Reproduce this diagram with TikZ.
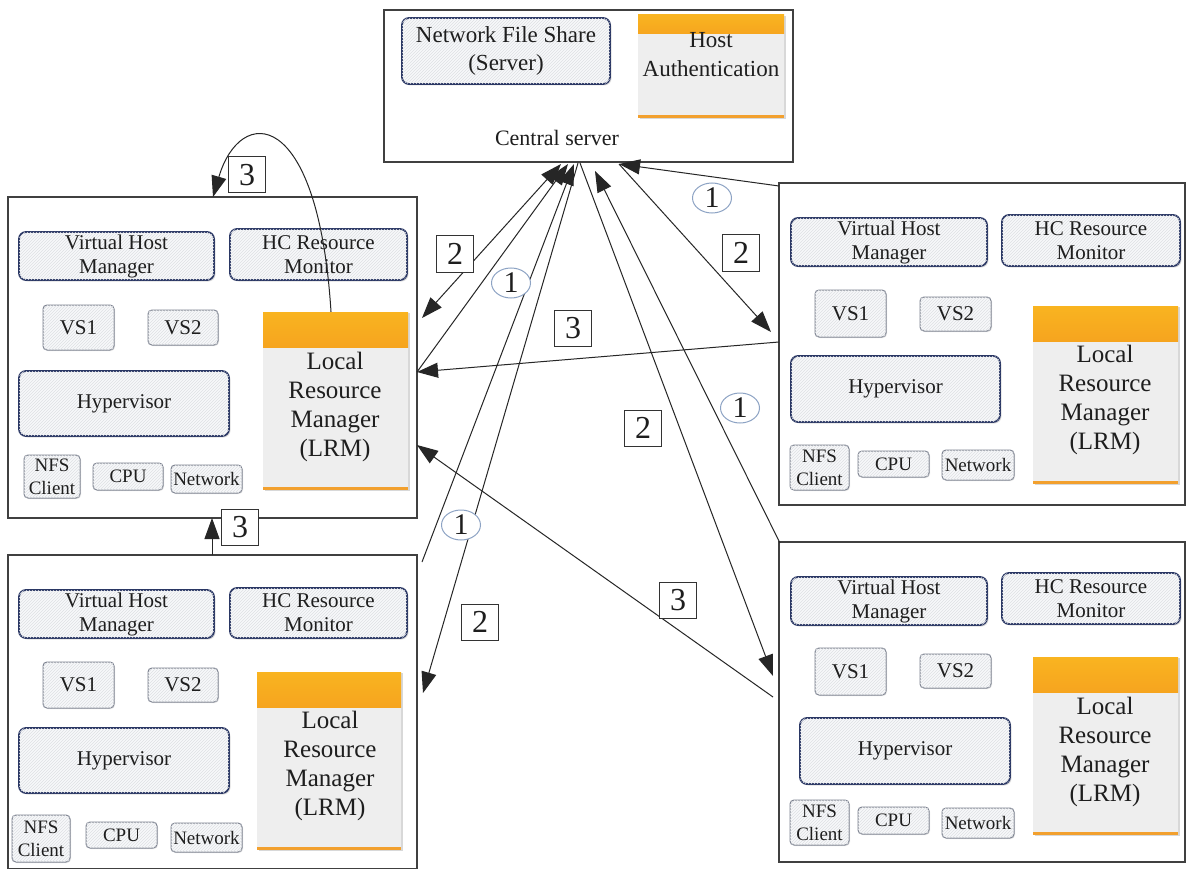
\documentclass[tikz,border=0pt]{standalone}
\usepackage{fontspec}
\setmainfont{Liberation Serif}
\usetikzlibrary{arrows.meta,patterns,shadows,calc,shapes.geometric}
\definecolor{navy}{HTML}{2A3764}
\definecolor{bordgray}{HTML}{7C8290}
\definecolor{orA}{HTML}{F9B420}
\definecolor{orB}{HTML}{EA6418}
\definecolor{orLine}{HTML}{F2A02E}
\definecolor{lrmbody}{HTML}{EEEEEE}
\definecolor{ellc}{HTML}{8DA3C4}
\definecolor{hatch}{HTML}{DEE0E4}
\definecolor{boxfill}{HTML}{F8F9FA}
\definecolor{txt}{HTML}{1E1E1E}
\newcommand{\fsz}[2]{\fontsize{#1}{#2}\selectfont}
% name, x1, y1, x2, y2, style, text
\newcommand{\bx}[7]{\node[#6, minimum width={(#4)-(#2)}, minimum height={(#5)-(#3)}] (#1) at ({((#2)+(#4))/2},{((#3)+(#5))/2}) {#7};}
\tikzset{
  x=1pt, y=-1pt,
  every node/.style={text=txt},
  host/.style={draw=black!75, line width=1.2pt, fill=white, inner sep=0},
  bigbox/.style={rounded corners=7pt, draw=navy, line width=1.8pt, fill=boxfill,
    drop shadow={shadow xshift=1.5pt, shadow yshift=-1.5pt, opacity=0.25},
    postaction={pattern=north east lines, pattern color=hatch},
    inner sep=0, align=center, font=\fsz{21}{24}},
  smallbox/.style={rounded corners=4pt, draw=bordgray, line width=1pt, fill=boxfill,
    drop shadow={shadow xshift=1pt, shadow yshift=-1pt, opacity=0.2},
    postaction={pattern=north east lines, pattern color=hatch},
    inner sep=0, align=center, font=\fsz{21}{24}},
  tinybox/.style={smallbox, font=\fsz{19}{22}},
  lrm/.style={draw=none, fill=lrmbody, inner sep=0,
    drop shadow={shadow xshift=2pt, shadow yshift=-1pt, opacity=0.3},
    path picture={
      \shade[top color=orA, bottom color=orB] (path picture bounding box.north west) rectangle ([yshift=-#1]path picture bounding box.north east);
      \fill[orLine] (path picture bounding box.south west) rectangle ([yshift=3pt]path picture bounding box.south east);
    }},
  lrm/.default=35pt,
  lrmtext/.style={align=center, font=\fsz{25}{29}, inner sep=0},
  arr/.style={-{Triangle[length=21pt,width=15pt]}, line width=1pt, draw=black!85},
  darr/.style={{Triangle[length=21pt,width=15pt]}-{Triangle[length=21pt,width=15pt]}, line width=1pt, draw=black!85},
  sq/.style={draw=black!80, line width=1pt, fill=white, inner sep=0, minimum width=37pt, minimum height=36pt, font=\fsz{32}{32}},
  circ/.style={ellipse, draw=ellc, line width=1pt, fill=white, inner sep=0, minimum width=39pt, minimum height=30pt, font=\fsz{30}{30}},
}
\begin{document}
\begin{tikzpicture}
\useasboundingbox (0,0) rectangle (1186,869);
\fill[white] (0,0) rectangle (1186,869);

% ---------- Central server ----------
\bx{central}{384}{10}{793}{162}{host}{}
\bx{nfsS}{402}{18}{610}{84}{bigbox, font=\fsz{23}{28}}{Network File Share\\(Server)}
\bx{hauth}{638}{15}{784}{118}{lrm=19pt}{}
\node[align=center, font=\fsz{23}{29}, inner sep=0] (hauthT) at (711,55) {Host\\Authentication};
\node[font=\fsz{22}{24}, inner sep=0] (centralT) at (557,138) {Central server};

% ---------- Host A (left top) ----------
\bx{hostA}{8}{197}{417}{518}{host}{}
\bx{vhmA}{19}{232}{214}{280}{bigbox}{Virtual Host\\Manager}
\bx{hcA}{230}{229}{407}{280}{bigbox}{HC Resource\\Monitor}
\bx{vs1A}{43}{305}{114}{350}{smallbox}{VS1}
\bx{vs2A}{148}{310}{218}{345}{smallbox}{VS2}
\bx{hypA}{19}{371}{229}{436}{bigbox}{Hypervisor}
\bx{nfsA}{24}{455}{80}{498}{tinybox, font=\fsz{19}{23}}{NFS\\Client}
\bx{cpuA}{93}{463}{163}{490}{tinybox}{CPU}
\bx{netA}{171}{465}{242}{493}{tinybox}{Network}
\bx{lrmA}{263}{312}{408}{490}{lrm}{}
\node[lrmtext] (lrmAT) at (335,407) {Local\\Resource\\Manager\\(LRM)};

% ---------- Host C (left bottom) ----------
\bx{hostC}{8}{555}{417}{868.5}{host}{}
\bx{vhmC}{19}{590}{214}{638}{bigbox}{Virtual Host\\Manager}
\bx{hcC}{230}{588}{407}{638}{bigbox}{HC Resource\\Monitor}
\bx{vs1C}{43}{662}{114}{708}{smallbox}{VS1}
\bx{vs2C}{148}{668}{218}{702}{smallbox}{VS2}
\bx{hypC}{19}{728}{229}{793}{bigbox}{Hypervisor}
\bx{nfsC}{12}{815}{70}{862}{tinybox, font=\fsz{19}{23}}{NFS\\Client}
\bx{cpuC}{86}{822}{157}{848}{tinybox}{CPU}
\bx{netC}{171}{823}{242}{852}{tinybox}{Network}
\bx{lrmC}{257}{672}{401}{850}{lrm}{}
\node[lrmtext] (lrmCT) at (330,766) {Local\\Resource\\Manager\\(LRM)};

% ---------- Host B (right top) ----------
\bx{hostB}{779}{183}{1185}{505}{host}{}
\bx{vhmB}{791}{218}{987}{266}{bigbox}{Virtual Host\\Manager}
\bx{hcB}{1002}{215}{1180}{266}{bigbox}{HC Resource\\Monitor}
\bx{vs1B}{815}{290}{886}{337}{smallbox}{VS1}
\bx{vs2B}{920}{297}{991}{331}{smallbox}{VS2}
\bx{hypB}{791}{356}{1000}{422}{bigbox}{Hypervisor}
\bx{nfsB}{790}{445}{849}{490}{tinybox, font=\fsz{19}{23}}{NFS\\Client}
\bx{cpuB}{858}{451}{929}{477}{tinybox}{CPU}
\bx{netB}{942}{450}{1014}{480}{tinybox}{Network}
\bx{lrmB}{1033}{306}{1178}{484}{lrm}{}
\node[lrmtext] (lrmBT) at (1105,400) {Local\\Resource\\Manager\\(LRM)};

% ---------- Host D (right bottom) ----------
\bx{hostD}{779}{542}{1185}{862}{host}{}
\bx{vhmD}{791}{577}{987}{625}{bigbox}{Virtual Host\\Manager}
\bx{hcD}{1002}{573}{1180}{624}{bigbox}{HC Resource\\Monitor}
\bx{vs1D}{815}{648}{886}{695}{smallbox}{VS1}
\bx{vs2D}{920}{654}{991}{688}{smallbox}{VS2}
\bx{hypD}{800}{718}{1010}{784}{bigbox}{Hypervisor}
\bx{nfsD}{790}{800}{849}{845}{tinybox, font=\fsz{19}{23}}{NFS\\Client}
\bx{cpuD}{858}{807}{929}{834}{tinybox}{CPU}
\bx{netD}{942}{808}{1014}{838}{tinybox}{Network}
\bx{lrmD}{1033}{657}{1178}{835}{lrm}{}
\node[lrmtext] (lrmDT) at (1105,752) {Local\\Resource\\Manager\\(LRM)};

% ---------- connector end points ----------
\coordinate (t2L) at (561,164);
\coordinate (t1A) at (568,164);
\coordinate (t1C) at (574,164);
\coordinate (t2C) at (578,163);
\coordinate (t2D) at (580,163);
\coordinate (t1D) at (595,171);
\coordinate (t1B) at (619,164);
\coordinate (aTop2) at (422,318);
\coordinate (aIn3B) at (417,372);
\coordinate (aIn3D) at (417,445);
\coordinate (cOut1) at (422,562);
\coordinate (cIn2) at (423,693);
\coordinate (bOut1) at (779,186);
\coordinate (bIn2) at (771,332);
\coordinate (bOut3) at (779,342);
\coordinate (dOut1) at (780,543);
\coordinate (dIn2) at (773,676);
\coordinate (dOut3) at (773,697);
\coordinate (aTopIn) at (213,197);
\coordinate (aBot) at (212,518);
\coordinate (cTop) at (212,555);

% ---------- connectors ----------
\draw[darr] (aTop2) -- (t2L);
\draw[arr] (aIn3B) -- (t1A);
\draw[arr] (cOut1) -- (t1C);
\draw[arr] (t2C) -- (cIn2);
\draw[arr] (t2D) -- (dIn2);
\draw[arr] (dOut1) -- (t1D);
\draw[arr] (t1B) -- (bIn2);
\draw[arr] (bOut1) -- (t1B);
\draw[arr] (bOut3) -- (aIn3B);
\draw[arr] (dOut3) -- (aIn3D);
\draw[arr] (cTop) -- (aBot);
\draw[arr] (lrmA.north -| 331,0) .. controls (318,105) and (240,105) .. (aTopIn);

% ---------- labels ----------
\node[sq] (l3top) at (247,175) {3};
\node[sq] (l3mid) at (240,527) {3};
\node[sq] (l2a) at (455,254) {2};
\node[circ] (l1a) at (511,283) {1};
\node[sq] (l3a) at (573,328) {3};
\node[sq] (l2b) at (643,428) {2};
\node[circ] (l1b) at (740,408) {1};
\node[circ] (l1c) at (712,198) {1};
\node[sq] (l2c) at (741,253) {2};
\node[circ] (l1d) at (461,525) {1};
\node[sq] (l2d) at (480,622) {2};
\node[sq] (l3d) at (678,600) {3};
\end{tikzpicture}
\end{document}
